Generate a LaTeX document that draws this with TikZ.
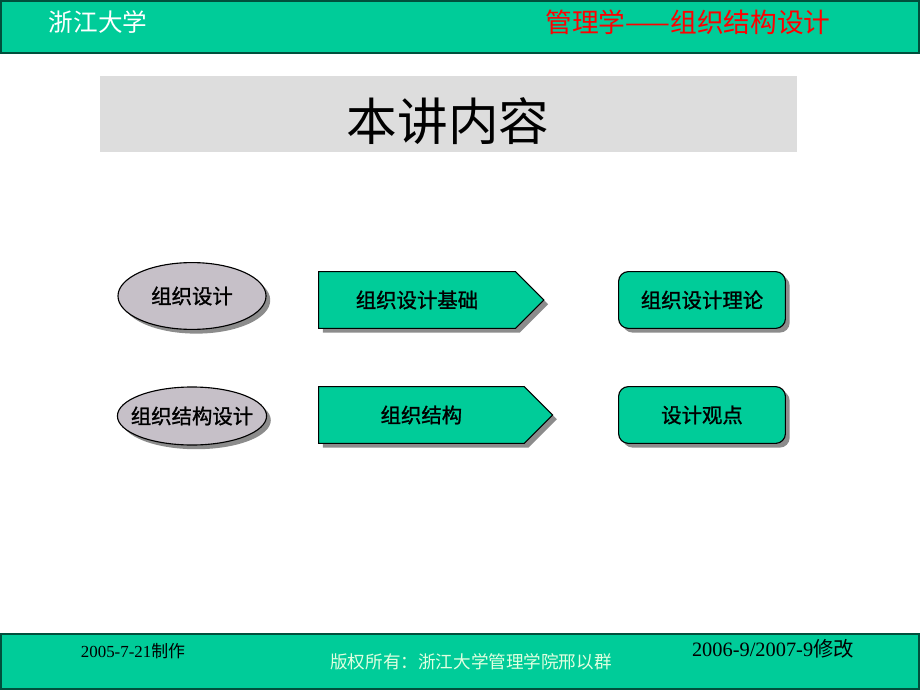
\documentclass[tikz,border=0pt]{standalone}
\usepackage{fontspec}
\setmainfont{Liberation Serif}
\newfontfamily\cjk{Noto Sans CJK SC}
\newfontfamily\cjkbox{Noto Sans CJK SC}[RawFeature={embolden=1.2}]
\usepackage{tikz}
\usetikzlibrary{shapes.geometric,shapes.symbols,shadows}

\definecolor{barteal}{RGB}{0,204,153}
\definecolor{bardark}{RGB}{0,80,60}
\definecolor{ovalgray}{RGB}{198,192,200}
\definecolor{titlegray}{RGB}{221,221,221}

\tikzset{
    shade/.style={drop shadow={shadow xshift=3pt, shadow yshift=-3pt, fill=black!45, opacity=1}},
    topic/.style={ellipse, draw=black, thick, fill=ovalgray, shade, inner sep=0pt,
        minimum width=3.7cm, font=\cjkbox\fontsize{14.5}{17}\selectfont},
    stage/.style={signal, signal to=east, signal pointer angle=90, draw=black, thick, fill=barteal, shade,
        anchor=west, minimum height=1.42cm, font=\cjkbox\fontsize{14.5}{17}\selectfont},
    theory/.style={rectangle, rounded corners=7pt, draw=black, thick, fill=barteal, shade,
        minimum width=4.17cm, minimum height=1.42cm, font=\cjkbox\fontsize{14.5}{17}\selectfont}
}

\begin{document}
\begin{tikzpicture}[x=0.025cm, y=-0.025cm]
            \useasboundingbox (0, 0) rectangle (920, 690);
            % bars
            \draw[fill=barteal, draw=bardark, line width=1.2pt] (1, 1) rectangle (919, 53);
            \draw[fill=barteal, draw=bardark, line width=1.2pt] (1, 634) rectangle (919, 689);
            \fill[titlegray] (100, 76) rectangle (797, 152);

            \node[text=white, font=\cjk\fontsize{17.5}{20}\selectfont] (school) at (98, 22) {浙江大学};
            \node[text=red, font=\cjk\fontsize{19}{22}\selectfont] (course) at (688, 22) {管理学——组织结构设计};
            \node[font=\cjk\fontsize{36}{42}\selectfont] (title) at (448, 121) {本讲内容};

            \node[topic, minimum height=1.67cm] (design) at (192, 296) {组织设计};
            \node[topic, minimum height=1.45cm, inner xsep=-6pt] (structdesign) at (192, 416) {组织结构设计};

            \node[stage, minimum width=5.63cm] (basis) at (318, 300) {组织设计基础};
            \node[stage, minimum width=5.85cm] (structure) at (318, 415) {组织结构};

            \node[theory] (theory) at (702, 300) {组织设计理论};
            \node[theory] (views) at (702, 415) {设计观点};

            \node[font=\fontsize{12}{14}\selectfont] (made) at (133, 651) {2005-7-21{\cjk 制作}};
            \node[text=white!88!green, font=\cjk\fontsize{12.5}{15}\selectfont] (rights) at (471, 662) {版权所有：浙江大学管理学院邢以群};
            \node[font=\fontsize{14.5}{17}\selectfont] (revised) at (773, 649) {2006-9/2007-9{\cjk 修改}};
        \end{tikzpicture}
\end{document}
